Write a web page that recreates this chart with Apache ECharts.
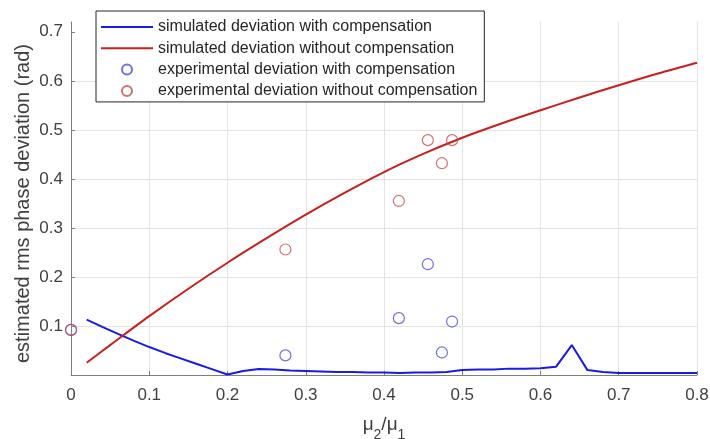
<!DOCTYPE html>
<html>
<head>
<meta charset="utf-8">
<script src="https://cdn.jsdelivr.net/npm/echarts@6/dist/echarts.min.js"></script>
<style>
  html, body { margin: 0; padding: 0; background: #fff; }
  #main { width: 710px; height: 439px; }
</style>
</head>
<body>
<div id="main"></div>
<script>
// simulated curves (x = mu2/mu1)
var blueX = [0.02, 0.04, 0.06, 0.08, 0.10, 0.12, 0.14, 0.16, 0.18, 0.20,
             0.22, 0.24, 0.26, 0.28, 0.30, 0.32, 0.34, 0.36, 0.38, 0.40,
             0.42, 0.44, 0.46, 0.48, 0.50, 0.52, 0.54, 0.56, 0.58, 0.60,
             0.62, 0.64, 0.66, 0.68, 0.70, 0.72, 0.74, 0.76, 0.78, 0.80];
var blueY = [0.113, 0.098, 0.084, 0.070, 0.057, 0.045, 0.034, 0.023, 0.012, 0.001,
             0.008, 0.012, 0.011, 0.009, 0.008, 0.007, 0.006, 0.006, 0.005, 0.005,
             0.004, 0.005, 0.005, 0.006, 0.010, 0.011, 0.011, 0.013, 0.013, 0.014,
             0.017, 0.061, 0.010, 0.006, 0.004, 0.004, 0.004, 0.004, 0.004, 0.004];
var redX = [0.02, 0.05, 0.10, 0.15, 0.20, 0.25, 0.30, 0.35, 0.40,
            0.45, 0.50, 0.55, 0.60, 0.65, 0.70, 0.75, 0.80];
var redY = [0.025, 0.061, 0.120, 0.176, 0.229, 0.279, 0.327, 0.372, 0.414,
            0.451, 0.484, 0.513, 0.540, 0.566, 0.591, 0.615, 0.637];

// experimental points
var expX = [0, 0.274, 0.419, 0.456, 0.474, 0.487];
var expWith = [0.092, 0.040, 0.116, 0.226, 0.046, 0.109];
var expWithout = [0.092, 0.256, 0.355, 0.479, 0.432, 0.479];

var yTicks = [0, 0.1, 0.2, 0.3, 0.4, 0.5, 0.6, 0.7];

var names = [
  'simulated deviation with compensation',
  'simulated deviation without compensation',
  'experimental deviation with compensation',
  'experimental deviation without compensation'
];

function pairs(xs, ys) {
  return xs.map(function (x, i) { return [x, ys[i]]; });
}

var axisGray = '#7f7f7f';
var textGray = '#404040';
var lineIcon = 'path://M0,0 L52,0 L52,2 L0,2 Z';

var myChart = echarts.init(document.getElementById('main'));
var option = {
  animation: false,
  textStyle: { fontFamily: 'Liberation Sans, Arial, sans-serif' },
  grid: { left: 71, right: 13, top: 22, bottom: 64, outerBoundsMode: 'none', containLabel: false },
  legend: {
    orient: 'vertical',
    left: 96,
    top: 11,
    data: [
      { name: names[0], icon: lineIcon },
      { name: names[1], icon: lineIcon },
      { name: names[2] },
      { name: names[3] }
    ],
    itemWidth: 52,
    itemHeight: 10,
    itemGap: 5.3,
    symbolKeepAspect: true,
    padding: [8, 7, 3, 5],
    borderColor: '#262626',
    borderWidth: 1,
    backgroundColor: '#fff',
    borderRadius: 0,
    textStyle: { fontSize: 16, color: '#262626' }
  },
  xAxis: {
    type: 'value',
    min: 0,
    max: 0.8,
    interval: 0.1,
    name: '{a|μ}{s|2}{a|/μ}{s|1}',
    nameLocation: 'middle',
    nameGap: 40,
    nameMoveOverlap: false,
    nameTextStyle: {
      rich: {
        a: { fontSize: 19, color: textGray, lineHeight: 20, verticalAlign: 'top' },
        s: { fontSize: 14, color: textGray, lineHeight: 14, padding: [13, 0, 0, 0], verticalAlign: 'top' }
      }
    },
    axisLine: { show: true, onZero: false, lineStyle: { color: axisGray, width: 1 } },
    axisTick: { show: true, inside: true, length: 4, lineStyle: { color: axisGray } },
    axisLabel: {
      fontSize: 17,
      color: textGray,
      margin: 12,
      formatter: function (v) { return v === 0 ? '0' : v.toFixed(1); }
    },
    splitLine: { show: true, lineStyle: { color: '#e3e3e3', width: 1 } }
  },
  yAxis: {
    type: 'value',
    min: 0,
    max: 0.72,
    interval: 0.1,
    name: 'estimated rms phase deviation (rad)',
    nameLocation: 'middle',
    nameGap: 38,
    nameMoveOverlap: false,
    nameTextStyle: { fontSize: 20, color: textGray, padding: [0, 10, 0, 0] },
    axisLine: { show: true, onZero: false, lineStyle: { color: axisGray, width: 1 } },
    axisTick: { show: true, inside: true, length: 4, lineStyle: { color: axisGray }, customValues: yTicks },
    axisLabel: {
      fontSize: 17,
      color: textGray,
      margin: 8,
      formatter: function (v) { return (v > 0.05 && v < 0.71) ? v.toFixed(1) : ''; }
    },
    splitLine: { show: true, showMaxLine: false, lineStyle: { color: '#e3e3e3', width: 1 } }
  },
  series: [
    {
      name: names[0],
      type: 'line',
      data: pairs(blueX, blueY),
      symbol: 'none',
      lineStyle: { color: '#1a1ae6', width: 2 },
      itemStyle: { color: '#1a1ae6' },
      z: 2
    },
    {
      name: names[1],
      type: 'line',
      data: pairs(redX, redY),
      symbol: 'none',
      smooth: 0.3,
      lineStyle: { color: '#c81e1e', width: 2 },
      itemStyle: { color: '#c81e1e' },
      z: 3
    },
    {
      name: names[2],
      type: 'scatter',
      data: pairs(expX, expWith),
      symbol: 'circle',
      symbolSize: 11,
      clip: false,
      itemStyle: { color: 'rgba(255,255,255,0)', borderColor: '#4d4dd6', borderWidth: 1.2 },
      z: 4
    },
    {
      name: names[3],
      type: 'scatter',
      data: pairs(expX, expWithout),
      symbol: 'circle',
      symbolSize: 11,
      clip: false,
      itemStyle: { color: 'rgba(255,255,255,0)', borderColor: '#c0504d', borderWidth: 1.2 },
      z: 5
    }
  ]
};

myChart.setOption(option);
</script>
</body>
</html>
